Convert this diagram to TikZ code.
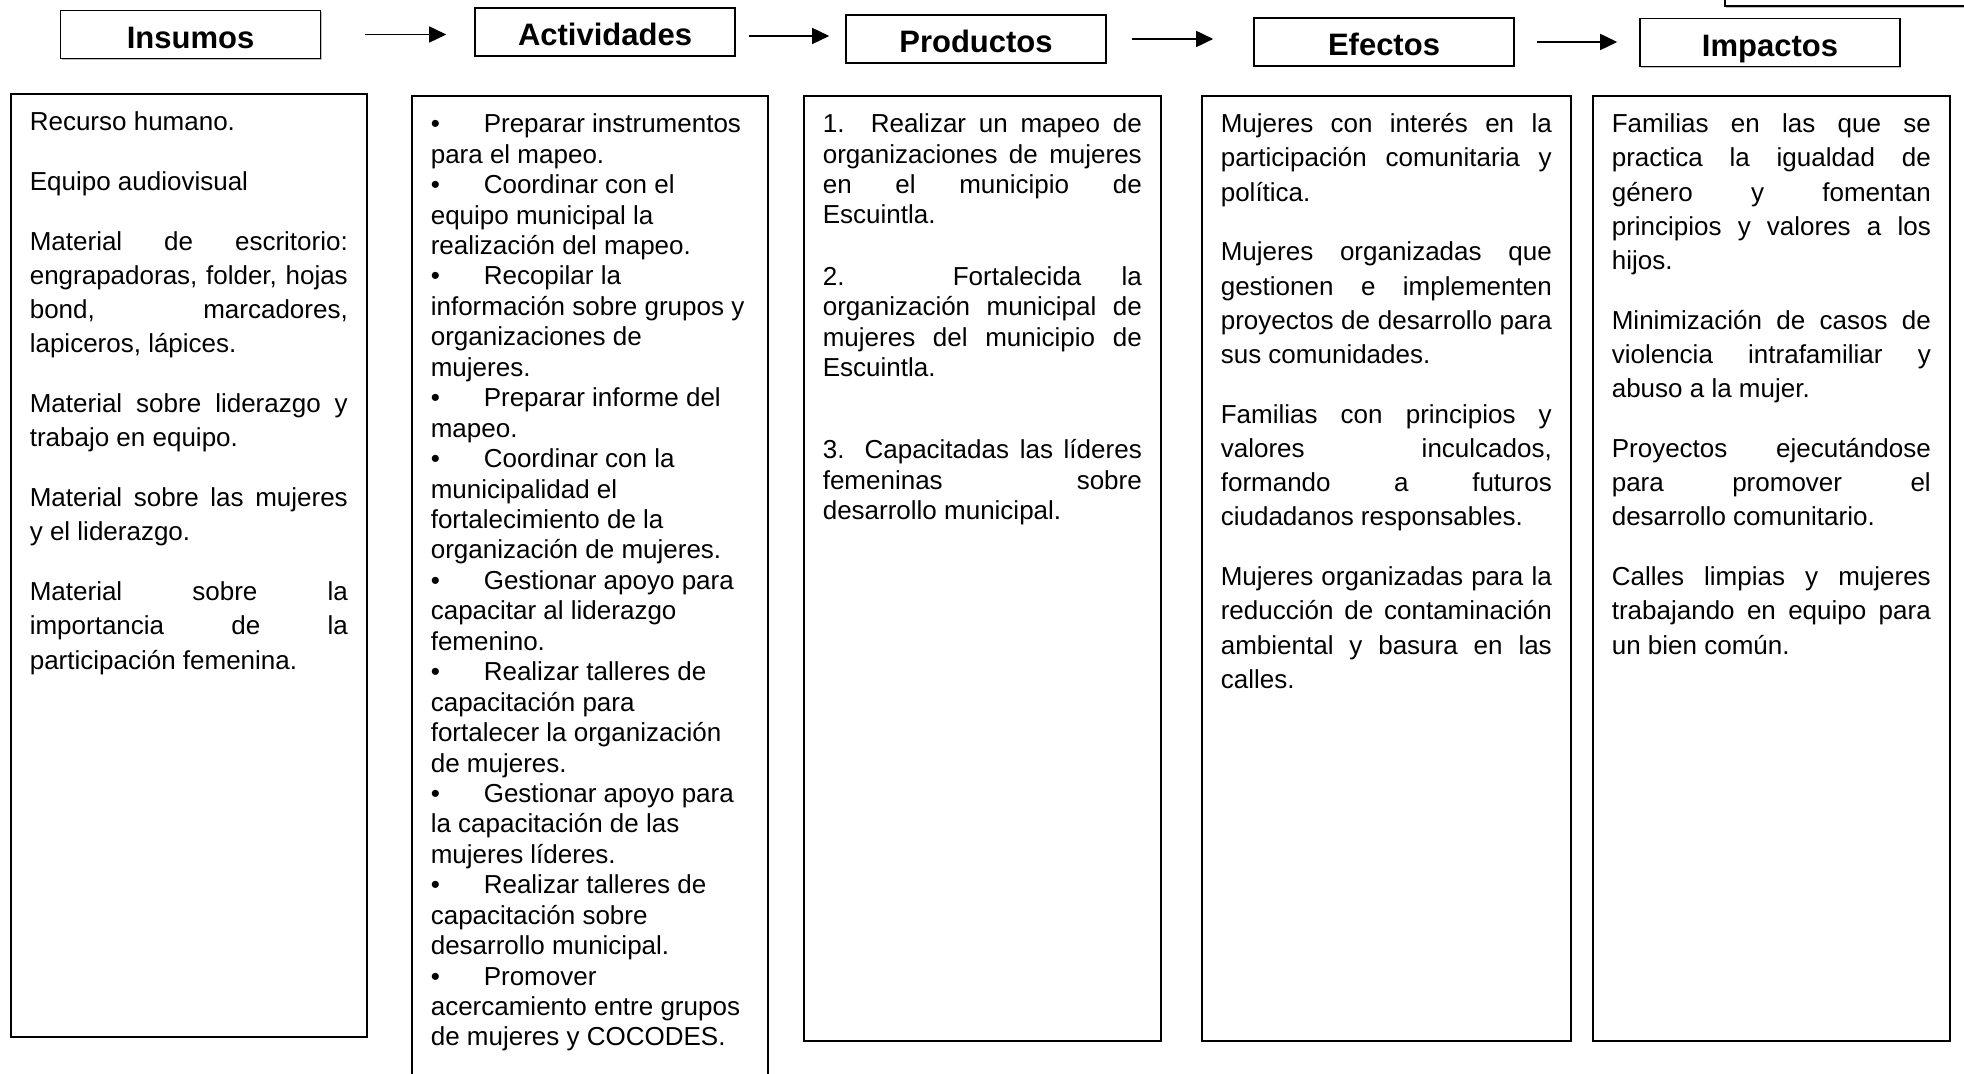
\documentclass[tikz,border=0pt]{standalone}
\usepackage{fontspec}
\setmainfont{Liberation Sans}
\usetikzlibrary{arrows.meta, shadows}

% top-aligned text block for a column box: height, width, line pitch, paragraph gap, text
\newcommand{\paneltext}[5]{%
  \parbox[t][#1][t]{#2}{\fontsize{13}{#3}\selectfont
    \setlength{\parskip}{#4}\tolerance=10000 \hyphenpenalty=10000
    \rule{0pt}{18.5pt}#5}}
\newcommand{\actbullet}{\makebox[26.5pt][l]{\textbullet}}

\begin{document}
\begin{tikzpicture}[
    x=0.5pt, y=-0.5pt,
    head/.style={draw, fill=white, line width=0.8pt, minimum width=130pt,
                 minimum height=24pt, inner sep=0pt, text height=14pt, text depth=0pt,
                 font=\fontsize{15.5}{18}\selectfont\bfseries,
                 drop shadow={shadow xshift=0.7pt, shadow yshift=-0.7pt, opacity=0.5}},
    panel/.style={draw, fill=white, line width=0.8pt, anchor=north west,
                  inner xsep=9.5pt, inner ysep=0pt,
                  drop shadow={shadow xshift=0.7pt, shadow yshift=-0.7pt, opacity=0.5}},
    arrow/.style={-{Triangle[length=8.5pt, width=8pt]}, line width=0.8pt},
]
    \useasboundingbox (0,0) rectangle (1964,1074);

    % Headers
    \node[head] (insumos)     at (190.5,34.5) {Insumos};
    \node[head] (actividades) at (605,32)     {Actividades};
    \node[head] (productos)   at (976,39)     {Productos};
    \node[head] (efectos)     at (1384,42)    {Efectos};
    \node[head] (impactos)    at (1770,42.5)  {Impactos};
    \node[head, anchor=south west, minimum width=150pt] (corner) at (1724,7) {};

    % Arrows
    \draw[arrow, shorten <=21.75pt, shorten >=14pt] (insumos.east) -- (insumos.east -| actividades.west);
    \draw[arrow, shorten <=6.5pt, shorten >=8pt] ([yshift=-2pt]actividades.east) -- ([yshift=-2pt]actividades.east -| productos.west);
    \draw[arrow, shorten <=12.5pt, shorten >=20pt] (productos.east) -- (productos.east -| efectos.west);
    \draw[arrow, shorten <=11pt, shorten >=11pt] (efectos.east) -- (efectos.east -| impactos.west);

    % Columns
    \node[panel] (insumos-body) at (10,93) {\paneltext{471.5pt}{159pt}{17.1pt}{12.8pt}{%
        Recurso humano.\endgraf
        Equipo audiovisual\endgraf
        Material de escritorio:\linebreak engrapadoras, folder, hojas\linebreak bond, marcadores,\linebreak lapiceros, lápices.\endgraf
        Material sobre liderazgo y\linebreak trabajo en equipo.\endgraf
        Material sobre las mujeres\linebreak y el liderazgo.\endgraf
        Material sobre la\linebreak importancia de la\linebreak participación femenina.}};

    \node[panel] (actividades-body) at (411,95) {\paneltext{500pt}{159pt}{15.22pt}{0pt}{\raggedright
        \actbullet Preparar instrumentos\\ para el mapeo.\\
        \actbullet Coordinar con el\\ equipo municipal la\\ realización del mapeo.\\
        \actbullet Recopilar la\\ información sobre grupos y\\ organizaciones de\\ mujeres.\\
        \actbullet Preparar informe del\\ mapeo.\\
        \actbullet Coordinar con la\\ municipalidad el\\ fortalecimiento de la\\ organización de mujeres.\\
        \actbullet Gestionar apoyo para\\ capacitar al liderazgo\\ femenino.\\
        \actbullet Realizar talleres de\\ capacitación para\\ fortalecer la organización\\ de mujeres.\\
        \actbullet Gestionar apoyo para\\ la capacitación de las\\ mujeres líderes.\\
        \actbullet Realizar talleres de\\ capacitación sobre\\ desarrollo municipal.\\
        \actbullet Promover\\ acercamiento entre grupos\\ de mujeres y COCODES.}};

    \node[panel] (productos-body) at (803,95) {\paneltext{472.5pt}{159.5pt}{15.2pt}{15.5pt}{%
        1. Realizar un mapeo de\linebreak organizaciones de mujeres\linebreak en el municipio de\linebreak Escuintla.\endgraf
        2. Fortalecida la\linebreak organización municipal de\linebreak mujeres del municipio de\linebreak Escuintla.\endgraf
        \vspace{10.5pt}
        3. Capacitadas las líderes\linebreak femeninas sobre\linebreak desarrollo municipal.}};

    \node[panel] (efectos-body) at (1201,95) {\paneltext{472.5pt}{165.5pt}{17.1pt}{12.8pt}{%
        Mujeres con interés en la\linebreak participación comunitaria y\linebreak política.\endgraf
        Mujeres organizadas que\linebreak gestionen e implementen\linebreak proyectos de desarrollo para\linebreak sus comunidades.\endgraf
        Familias con principios y\linebreak valores inculcados,\linebreak formando a futuros\linebreak ciudadanos responsables.\endgraf
        Mujeres organizadas para la\linebreak reducción de contaminación\linebreak ambiental y basura en las\linebreak calles.}};

    \node[panel] (impactos-body) at (1592,95) {\paneltext{472.5pt}{159.5pt}{17.1pt}{12.8pt}{%
        Familias en las que se\linebreak practica la igualdad de\linebreak género y fomentan\linebreak principios y valores a los\linebreak hijos.\endgraf
        Minimización de casos de\linebreak violencia intrafamiliar y\linebreak abuso a la mujer.\endgraf
        Proyectos ejecutándose\linebreak para promover el\linebreak desarrollo comunitario.\endgraf
        Calles limpias y mujeres\linebreak trabajando en equipo para\linebreak un bien común.}};
\end{tikzpicture}
\end{document}
